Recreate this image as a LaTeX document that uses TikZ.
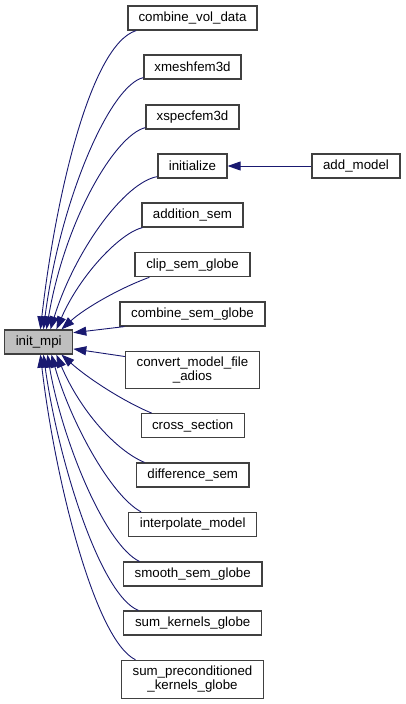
\documentclass[tikz,border=0pt]{standalone}
\usepackage{fontspec}
\setmainfont{Liberation Sans}
\usetikzlibrary{arrows.meta}
\definecolor{edgeblue}{RGB}{25,25,112}
\definecolor{boxline}{RGB}{64,64,64}
\definecolor{mpifill}{RGB}{191,191,191}
\begin{document}
\begin{tikzpicture}[x=1pt,y=-1pt,
  fn/.style={draw=boxline,line width=1.2pt,fill=white,inner sep=0pt,minimum height=24pt,
    font=\fontsize{13.3}{13.5}\selectfont,align=center},
  cur/.style={fn,fill=mpifill},
  edge/.style={draw=edgeblue,line width=0.9pt,{Triangle[length=13pt,width=9pt]}-}]
\useasboundingbox (0,0) rectangle (406,704);

\node[fn,minimum width=129pt] (cvd) at (192.5,18) {combine\_vol\_data};
\node[fn,minimum width=97pt] (xmesh) at (192.5,67) {xmeshfem3d};
\node[fn,minimum width=93pt] (xspec) at (192.5,117) {xspecfem3d};
\node[fn,minimum width=69pt] (init) at (192.5,166) {initialize};
\node[fn,minimum width=88pt] (addm) at (356,166) {add\_model};
\node[fn,minimum width=101pt] (adds) at (192.5,215) {addition\_sem};
\node[fn,minimum width=115pt] (clip) at (192.5,264.7) {clip\_sem\_globe};
\node[fn,minimum width=145pt] (csg) at (192.5,314) {combine\_sem\_globe};
\node[cur,minimum width=68pt] (mpi) at (38.7,342) {init\_mpi};
\node[fn,minimum width=133.6pt,minimum height=37.7pt] (conv) at (192.5,370) {convert\_model\_file\\\_adios};
\node[fn,minimum width=103pt] (cross) at (192.7,425.7) {cross\_section};
\node[fn,minimum width=112.7pt] (diff) at (192.7,475) {difference\_sem};
\node[fn,minimum width=128pt] (interp) at (192.7,524.5) {interpolate\_model};
\node[fn,minimum width=138.7pt] (smooth) at (192.7,574) {smooth\_sem\_globe};
\node[fn,minimum width=138pt] (sumk) at (192.7,623) {sum\_kernels\_globe};
\node[fn,minimum width=142.4pt,minimum height=38pt] (sump) at (192.5,679.3) {sum\_preconditioned\\\_kernels\_globe};

% edges into init_mpi (top)
\draw[edge] ([xshift=36.3pt]mpi.north west) .. controls (55,200) and (90,45) .. ([xshift=8.7pt]cvd.south west);
\draw[edge] ([xshift=39.3pt]mpi.north west) .. controls (60,200) and (110,85) .. ([yshift=2pt]xmesh.south west);
\draw[edge] ([xshift=42.3pt]mpi.north west) .. controls (65,220) and (115,135) .. ([yshift=2pt]xspec.south west);
\draw[edge] ([xshift=46.3pt]mpi.north west) .. controls (75,250) and (125,182) .. ([yshift=2pt]init.south west);
\draw[edge] ([xshift=52.3pt]mpi.north west) .. controls (80,275) and (120,233) .. ([xshift=1pt]adds.south west);
\draw[edge] ([xshift=57.3pt]mpi.north west) .. controls (85,308) and (120,288) .. ([xshift=15pt]clip.south west);
% side edges
\draw[edge] ([yshift=-3.3pt]mpi.north east) -- ([xshift=5pt]csg.south west);
\draw[edge] ([yshift=5.7pt]mpi.south east) -- ([yshift=-6pt]conv.north west);
% bottom edges
\draw[edge] ([xshift=57.3pt]mpi.south west) .. controls (90,380) and (125,402) .. ([xshift=11pt]cross.north west);
\draw[edge] ([xshift=52.3pt]mpi.south west) .. controls (80,410) and (115,450) .. ([xshift=8.7pt]diff.north west);
\draw[edge] ([xshift=47.3pt]mpi.south west) .. controls (70,420) and (110,495) .. ([xshift=13pt]interp.north west);
\draw[edge] ([xshift=43.3pt]mpi.south west) .. controls (62,440) and (105,545) .. ([xshift=16.7pt]smooth.north west);
\draw[edge] ([xshift=39.3pt]mpi.south west) .. controls (58,460) and (100,595) .. ([xshift=15.3pt]sumk.north west);
\draw[edge] ([xshift=36.3pt]mpi.south west) .. controls (55,480) and (95,640) .. ([xshift=14.7pt]sump.north west);
% add_model -> initialize
\draw[edge] (init.east) -- (addm.west);
\end{tikzpicture}
\end{document}
